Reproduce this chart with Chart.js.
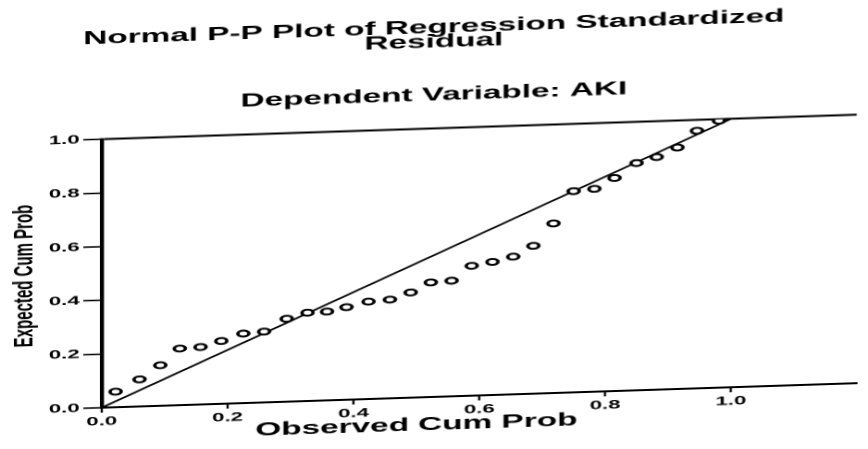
<!DOCTYPE html>
<html>
<head>
<meta charset="utf-8">
<script src="https://cdn.jsdelivr.net/npm/chart.js@4"></script>
<style>
  html, body { margin: 0; padding: 0; background: #fff; overflow: hidden; }
  #wrap {
    position: absolute; left: 0; top: 0;
    width: 469px; height: 449px;
    transform-origin: 0 0;
    transform: skewY(-1.86deg) scaleX(1.85);
  }
</style>
</head>
<body>
<div id="wrap"><canvas id="c"></canvas></div>
<script>
// Data
const observedCumProb = [0.022, 0.060, 0.093, 0.124, 0.157, 0.190, 0.225, 0.258, 0.294, 0.327,
                         0.358, 0.389, 0.424, 0.458, 0.491, 0.523, 0.556, 0.588, 0.621, 0.654,
                         0.686, 0.718, 0.750, 0.783, 0.815, 0.850, 0.882, 0.915, 0.946, 0.981];
const expectedCumProb = [0.058, 0.101, 0.151, 0.211, 0.214, 0.234, 0.259, 0.264, 0.309, 0.329,
                         0.331, 0.345, 0.363, 0.368, 0.392, 0.427, 0.431, 0.484, 0.496, 0.513,
                         0.551, 0.632, 0.750, 0.756, 0.794, 0.847, 0.867, 0.900, 0.960, 0.995];
const referenceX = [0, 1];
const referenceY = [0, 1];
const tickValues = [0.0, 0.2, 0.4, 0.6, 0.8, 1.0];
const titleLines = ['Normal P-P Plot of Regression Standardized', 'Residual'];
const subtitleText = 'Dependent Variable: AKI';
const xTitle = 'Observed Cum Prob';
const yTitle = 'Expected Cum Prob';

const FONT = 'Liberation Sans, Arial, Helvetica, sans-serif';

const points = observedCumProb.map((x, i) => ({ x: x, y: expectedCumProb[i] }));
const refLine = referenceX.map((x, i) => ({ x: x, y: referenceY[i] }));

const xTitlePlugin = {
  id: 'xTitlePlugin',
  afterDraw(chart) {
    const ctx = chart.ctx;
    const xs = chart.scales.x;
    ctx.save();
    ctx.fillStyle = '#000';
    ctx.font = 'bold 18px ' + FONT;
    ctx.textAlign = 'center';
    ctx.textBaseline = 'middle';
    ctx.fillText(xTitle, xs.getPixelForValue(0.5), chart.chartArea.bottom + 28);
    ctx.restore();
  }
};

new Chart(document.getElementById('c'), {
  type: 'scatter',
  data: {
    datasets: [
      {
        label: 'Residuals',
        data: points,
        pointStyle: 'circle',
        pointRadius: 3,
        pointBorderWidth: 1.9,
        pointBorderColor: '#000',
        pointBackgroundColor: '#fff',
        showLine: false
      },
      {
        label: 'Reference',
        data: refLine,
        showLine: true,
        borderColor: '#000',
        borderWidth: 1.5,
        pointRadius: 0,
        fill: false
      }
    ]
  },
  plugins: [xTitlePlugin],
  options: {
    responsive: true,
    maintainAspectRatio: false,
    devicePixelRatio: 2,
    animation: false,
    layout: { padding: 0 },
    plugins: {
      legend: { display: false },
      tooltip: { enabled: false },
      title: {
        display: true,
        text: titleLines,
        color: '#000',
        font: { family: FONT, size: 18, weight: 'bold', lineHeight: 0.8 },
        padding: { top: 35, bottom: 0 }
      },
      subtitle: {
        display: true,
        text: subtitleText,
        color: '#000',
        font: { family: FONT, size: 18, weight: 'bold', lineHeight: 1 },
        padding: { top: 36.5, bottom: 24.4 }
      }
    },
    scales: {
      x: {
        type: 'linear',
        min: 0,
        max: 1.2,
        afterFit(scale) { scale.height = 38; },
        afterBuildTicks(scale) {
          scale.ticks = tickValues.map(v => ({ value: v }));
        },
        border: { display: true, color: '#000', width: 2 },
        grid: {
          display: true,
          drawOnChartArea: false,
          drawTicks: true,
          tickLength: 5,
          tickColor: '#000',
          tickWidth: 1.2
        },
        ticks: {
          color: '#000',
          padding: 2,
          maxRotation: 0,
          autoSkip: false,
          font: { family: FONT, size: 12, weight: 'bold' },
          callback: v => Number(v).toFixed(1)
        },
        title: { display: false }
      },
      y: {
        type: 'linear',
        min: 0,
        max: 1,
        afterFit(scale) { scale.width = 55; },
        afterBuildTicks(scale) {
          scale.ticks = tickValues.map(v => ({ value: v }));
        },
        border: { display: true, color: '#000', width: 2.2 },
        grid: {
          display: true,
          drawOnChartArea: true,
          color: ctx => (ctx.tick && Math.abs(ctx.tick.value - 1) < 1e-9) ? '#000' : 'rgba(0,0,0,0)',
          lineWidth: 2,
          drawTicks: true,
          tickLength: 10,
          tickColor: '#000',
          tickWidth: 1.5
        },
        ticks: {
          color: '#000',
          padding: 2,
          autoSkip: false,
          font: { family: FONT, size: 12, weight: 'bold' },
          callback: v => Number(v).toFixed(1)
        },
        title: {
          display: true,
          text: yTitle,
          color: '#000',
          font: { family: FONT, size: 15, weight: 'bold', lineHeight: 1 },
          padding: { top: 6, bottom: 0 }
        }
      }
    }
  }
});
</script>
</body>
</html>
